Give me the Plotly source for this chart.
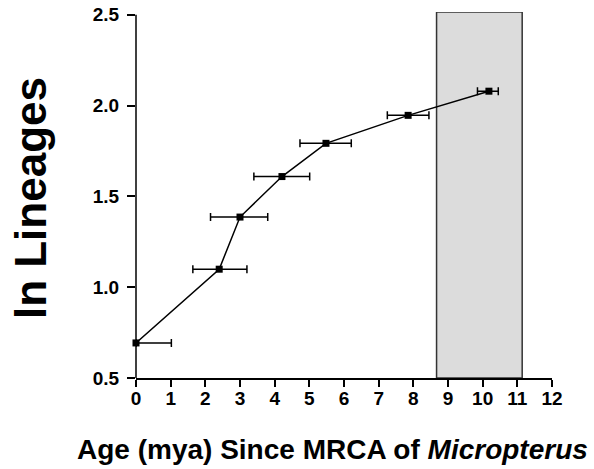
import plotly.graph_objects as go

# Data
ages = [0.0, 2.40, 3.00, 4.21, 5.48, 7.85, 10.18]
ln_lineages = [0.693, 1.099, 1.386, 1.609, 1.792, 1.946, 2.079]
age_low = [0.0, 1.64, 2.15, 3.40, 4.73, 7.25, 9.85]
age_high = [1.02, 3.20, 3.80, 5.01, 6.21, 8.45, 10.45]
shade_x = [8.67, 11.14]
shade_y = [0.5, 2.515]
x_ticks = list(range(0, 13))
y_ticks = [0.5, 1.0, 1.5, 2.0, 2.5]

err_plus = [h - a for h, a in zip(age_high, ages)]
err_minus = [a - l for a, l in zip(ages, age_low)]

FONT = "Liberation Sans, Arial, Helvetica, sans-serif"

fig = go.Figure()
fig.add_trace(go.Scatter(
    x=ages, y=ln_lineages, mode="lines+markers",
    line=dict(color="black", width=1.5),
    marker=dict(symbol="square", size=7, color="black"),
    error_x=dict(type="data", array=err_plus, arrayminus=err_minus,
                 symmetric=False, color="black", thickness=1.5, width=4),
    cliponaxis=False, showlegend=False,
))

fig.add_shape(type="rect", xref="x", yref="y",
              x0=shade_x[0], x1=shade_x[1], y0=shade_y[0], y1=shade_y[1],
              fillcolor="#dcdcdc", line=dict(color="#333333", width=1.5),
              layer="below")
# y axis line ending at the top tick
fig.add_shape(type="line", xref="paper", yref="y", x0=0, x1=0,
              y0=y_ticks[0], y1=y_ticks[-1],
              line=dict(color="black", width=1.5))

fig.add_annotation(text="<b>Age (mya) Since MRCA of <i>Micropterus</i></b>",
                   xref="paper", yref="paper", x=0.472, y=-0.195,
                   xanchor="center", yanchor="middle", showarrow=False,
                   font=dict(family=FONT, size=28, color="black"))
fig.add_annotation(text="<b>ln Lineages</b>", textangle=-90,
                   xref="paper", yref="paper", x=-0.252, y=0.492,
                   xanchor="center", yanchor="middle", showarrow=False,
                   font=dict(family=FONT, size=44, color="black"))

fig.update_layout(
    template="none",
    width=594, height=469,
    margin=dict(l=136, r=42, t=12, b=91, autoexpand=False),
    plot_bgcolor="white", paper_bgcolor="white",
    font=dict(family=FONT, color="black"),
    xaxis=dict(range=[0, 12], tickvals=x_ticks, ticks="outside", ticklen=7,
               tickwidth=1.5, tickcolor="black", showline=True,
               linecolor="black", linewidth=1.5, showgrid=False,
               zeroline=False, automargin=False, ticklabeloverflow="allow",
               ticklabelstandoff=-5,
               tickfont=dict(size=19, weight="bold")),
    yaxis=dict(range=[0.5, 2.515], tickvals=y_ticks, tickformat=".1f",
               ticks="outside", ticklen=8, tickwidth=1.5, tickcolor="black",
               showline=False, showgrid=False, zeroline=False,
               automargin=False, ticklabeloverflow="allow",
               ticklabelstandoff=4,
               tickfont=dict(size=19, weight="bold")),
)

# remove the browser's default 8px page margin so the figure sits at (0, 0)
fig.write_html("out.html", config={"displayModeBar": False},
               post_script="document.body.style.margin='0';")
